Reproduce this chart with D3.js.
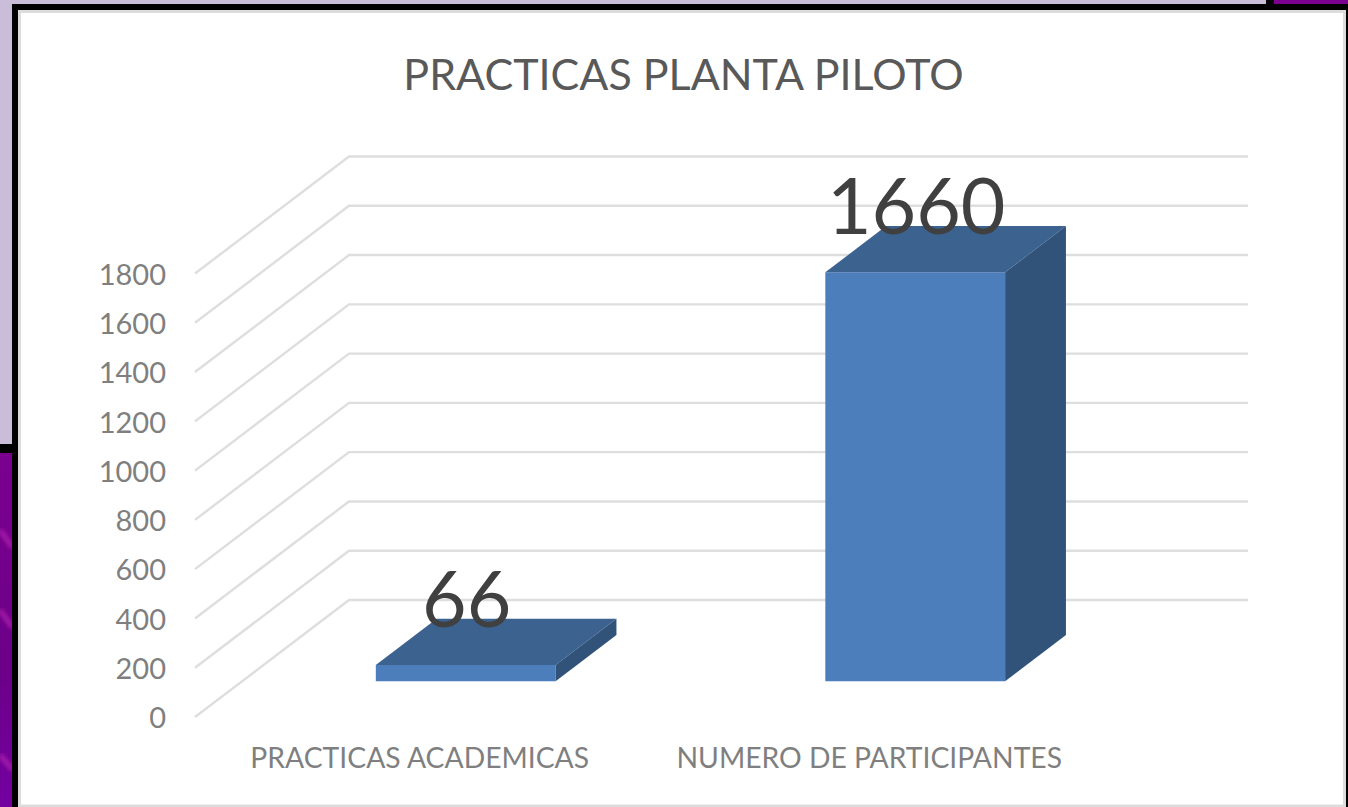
<!DOCTYPE html>
<html>
<head>
<meta charset="utf-8">
<script src="https://cdn.jsdelivr.net/npm/d3@7"></script>
<style>
  html, body { margin: 0; padding: 0; background: #fff; overflow: hidden; }
  text { font-family: Lato, "Open Sans", sans-serif; }
</style>
</head>
<body>
<div id="visualization"></div>
<script>
// Chart data
var chartTitle = "PRACTICAS PLANTA PILOTO";
var categories = ["PRACTICAS ACADEMICAS", "NUMERO DE PARTICIPANTES"];
var values = [66, 1660];
var yTicks = [0, 200, 400, 600, 800, 1000, 1200, 1400, 1600, 1800];

var width = 1348, height = 807;

var svg = d3.select("#visualization")
  .append("svg")
  .attr("width", width)
  .attr("height", height)
  .style("display", "block");

// Background of the slide behind the chart
var defs = svg.append("defs");
var purple = defs.append("linearGradient")
  .attr("id", "purple")
  .attr("x1", 0).attr("y1", 0).attr("x2", 0).attr("y2", 1);
purple.append("stop").attr("offset", "0%").attr("stop-color", "#7b0090");
purple.append("stop").attr("offset", "60%").attr("stop-color", "#6c0088");
purple.append("stop").attr("offset", "100%").attr("stop-color", "#7400a0");
defs.append("filter").attr("id", "soft")
  .append("feGaussianBlur").attr("stdDeviation", 2);

svg.append("rect").attr("width", width).attr("height", height).attr("fill", "#c9bdd9");
svg.append("rect").attr("x", 0).attr("y", 452).attr("width", 13).attr("height", 355).attr("fill", "url(#purple)");
// light streaks on the purple strip
[[530, 548], [610, 628], [755, 770]].forEach(function(s) {
  svg.append("line")
    .attr("x1", 0).attr("y1", s[0]).attr("x2", 13).attr("y2", s[1])
    .attr("stroke", "#a41aa8").attr("stroke-width", 5).attr("filter", "url(#soft)");
});
svg.append("rect").attr("x", 0).attr("y", 444).attr("width", 13).attr("height", 9).attr("fill", "#000");
svg.append("rect").attr("x", 1266).attr("y", 0).attr("width", 82).attr("height", 5).attr("fill", "#7b0090");
svg.append("rect").attr("x", 1266).attr("y", 0).attr("width", 8).attr("height", 5).attr("fill", "#000");

// Black frame and white chart area
svg.append("rect").attr("x", 12).attr("y", 4).attr("width", 1336).attr("height", 803).attr("fill", "#000");
svg.append("rect").attr("x", 18).attr("y", 10).attr("width", 1328).attr("height", 797).attr("fill", "#fff");
svg.append("rect")
  .attr("x", 19.5).attr("y", 11.5).attr("width", 1325).attr("height", 794.5)
  .attr("fill", "#fff").attr("stroke", "#dcdcdc").attr("stroke-width", 3);

// Front plane scales, the floor runs back by depthX / depthY
var depthX = 154, depthY = -117;
var wallLeft = 195, wallRight = 1094;
var x = d3.scaleBand().domain(categories).range([wallLeft - 1, wallRight - 1]).paddingInner(0.6).paddingOuter(0.3);
var y = d3.scaleLinear().domain([0, 1800]).range([717, 273.5]);
// depth through the chart, 0 at the front and 1 at the back wall
var barFront = 0.305, barBack = 0.7;

function project(px, py, d) {
  return [px + depthX * d, py + depthY * d];
}

// Gridlines, side wall then back wall
var line = d3.line();
svg.append("g").selectAll("path")
  .data(yTicks)
  .enter().append("path")
  .attr("d", function(d) {
    return line([project(wallLeft, y(d), 0), project(wallLeft, y(d), 1), project(wallRight, y(d), 1)]);
  })
  .attr("fill", "none")
  .attr("stroke", "#dedede")
  .attr("stroke-width", 2.4);

// Value axis
var yAxis = svg.append("g")
  .attr("transform", "translate(166,1.5)")
  .call(d3.axisLeft(y).tickValues(yTicks).tickFormat(d3.format("d")).tickSize(0).tickPadding(0));
yAxis.select(".domain").remove();
yAxis.selectAll("text")
  .attr("font-size", 29)
  .attr("fill", "#7f7f7f")
  .style("font-family", "Lato, sans-serif");

// Bars: front, top and side faces
var bars = svg.append("g").selectAll("g")
  .data(values)
  .enter().append("g");

function face(points) { return line(points) + "Z"; }

bars.append("path")
  .attr("fill", "#4c7ebc")
  .attr("d", function(d, i) {
    var l = x(categories[i]), r = l + x.bandwidth();
    return face([project(l, y(0), barFront), project(r, y(0), barFront), project(r, y(d), barFront), project(l, y(d), barFront)]);
  });

bars.append("path")
  .attr("fill", "#3c6290")
  .attr("d", function(d, i) {
    var l = x(categories[i]), r = l + x.bandwidth();
    return face([project(l, y(d), barFront), project(r, y(d), barFront), project(r, y(d), barBack), project(l, y(d), barBack)]);
  });

bars.append("path")
  .attr("fill", "#315379")
  .attr("d", function(d, i) {
    var r = x(categories[i]) + x.bandwidth();
    return face([project(r, y(0), barFront), project(r, y(0), barBack), project(r, y(d), barBack), project(r, y(d), barFront)]);
  });

// Data labels
bars.append("text")
  .attr("x", function(d, i) {
    return project(x(categories[i]) + x.bandwidth() / 2, 0, barFront)[0] + 1;
  })
  .attr("y", function(d) { return project(0, y(d), barFront)[1] - 38; })
  .attr("text-anchor", "middle")
  .attr("font-size", 77)
  .attr("fill", "#404040")
  .text(function(d) { return d; });

// Category labels
svg.append("g").selectAll("text")
  .data(categories)
  .enter().append("text")
  .attr("x", function(d) { return x(d) + x.bandwidth() / 2 + 1; })
  .attr("y", 768)
  .attr("text-anchor", "middle")
  .attr("font-size", 28.3)
  .attr("fill", "#7f7f7f")
  .text(function(d) { return d; });

// Title
svg.append("text")
  .attr("x", 683.5)
  .attr("y", 90)
  .attr("text-anchor", "middle")
  .attr("font-size", 43)
  .attr("fill", "#595959")
  .text(chartTitle);
</script>
</body>
</html>
